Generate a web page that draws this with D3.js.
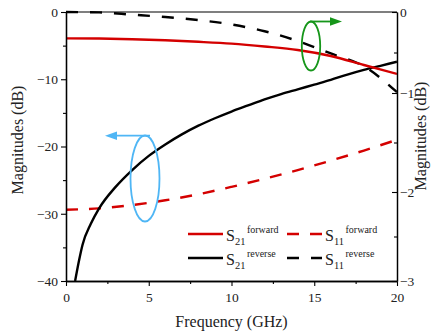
<!DOCTYPE html>
<html>
<head>
<meta charset="utf-8">
<script src="https://cdn.jsdelivr.net/npm/d3@7/dist/d3.min.js"></script>
<style>
  html, body { margin: 0; padding: 0; background: #fff; }
  svg text { font-family: "Liberation Serif", "Times New Roman", serif; fill: #222; }
</style>
</head>
<body>
<svg id="chart" width="431" height="333"></svg>
<script>
// ---------------- data ----------------
const freq = [0, 2, 4, 6, 8, 10, 12, 14, 16, 18, 20];                       // GHz
// right axis (0 .. -3 dB)
const s21Forward = [-0.325, -0.328, -0.336, -0.349, -0.368, -0.391, -0.426, -0.469, -0.543, -0.654, -0.765];
const s11Reverse = [0, -0.005, -0.033, -0.062, -0.100, -0.154, -0.238, -0.358, -0.512, -0.670, -0.990];
// left axis (0 .. -40 dB)
const s11Forward = [-29.4, -29.2, -28.7, -28.0, -27.1, -26.0, -24.8, -23.5, -22.1, -20.6, -19.0];
const freqRev = [0.55, 0.8, 1, 1.5, 2, 3, 4, 5, 6, 7, 8, 9, 10, 11, 12, 13, 14, 15, 16, 17, 18, 19, 20];
const s21Reverse = [-40, -36.8, -34.6, -31.5, -29.2, -26.0, -23.5, -21.4, -19.7, -18.2, -16.9, -15.8, -14.8, -13.9, -13.0, -12.2, -11.5, -10.8, -10.1, -9.3, -8.6, -8.0, -7.4];

const xTicks = [0, 5, 10, 15, 20];
const xMinor = [2.5, 7.5, 12.5, 17.5];
const yLeftTicks = [0, -10, -20, -30, -40];
const yLeftMinor = [-5, -15, -25, -35];
const yRightTicks = [0, -1, -2, -3];
const yRightMinor = [-0.5, -1.5, -2.5];

const xTitle = "Frequency (GHz)";
const yTitle = "Magnitudes (dB)";

const legendItems = [
  { sub: "21", sup: "forward", key: "s21f" },
  { sub: "11", sup: "forward", key: "s11f" },
  { sub: "21", sup: "reverse", key: "s21r" },
  { sub: "11", sup: "reverse", key: "s11r" }
];

// ---------------- layout ----------------
const SERIF = '"Liberation Serif", "Times New Roman", serif';
const RED = "#d40000", BLACK = "#000";
const L = 66, R = 397, T = 12, B = 281;
const svg = d3.select("#chart");

const x = d3.scaleLinear().domain([0, 20]).range([L, R]);
const yL = d3.scaleLinear().domain([0, -40]).range([T, B]);
const yR = d3.scaleLinear().domain([0, -1, -2, -3]).range([T, 93, 192, B]);

const styles = {
  s21f: { color: RED, dash: null },
  s11f: { color: RED, dash: "12,11" },
  s21r: { color: BLACK, dash: null },
  s11r: { color: BLACK, dash: "12,12" }
};

// clip
svg.append("clipPath").attr("id", "clip")
  .append("rect").attr("x", L).attr("y", T - 2).attr("width", R - L).attr("height", B - T + 2);

// frame top
svg.append("line").attr("x1", L).attr("x2", R).attr("y1", T).attr("y2", T)
  .attr("stroke", "#555").attr("stroke-width", 1.3);

// ---------------- series ----------------
const gLines = svg.append("g").attr("clip-path", "url(#clip)");
function drawSeries(xs, ys, scaleY, key) {
  const line = d3.line().x((d, i) => x(xs[i])).y(d => scaleY(d)).curve(d3.curveMonotoneX);
  gLines.append("path").datum(ys)
    .attr("d", line)
    .attr("fill", "none")
    .attr("stroke", styles[key].color)
    .attr("stroke-width", 2.4)
    .attr("stroke-dasharray", styles[key].dash);
}
drawSeries(freq, s11Forward, yL, "s11f");
drawSeries(freqRev, s21Reverse, yL, "s21r");
drawSeries(freq, s11Reverse, yR, "s11r");
drawSeries(freq, s21Forward, yR, "s21f");

// ---------------- axes ----------------
svg.append("g").attr("transform", `translate(${L},0)`)
  .call(d3.axisLeft(yL).tickValues(yLeftTicks).tickSize(5).tickSizeOuter(0).tickPadding(3).tickFormat(d3.format("d")));
svg.append("g").attr("transform", `translate(${L},0)`)
  .call(d3.axisLeft(yL).tickValues(yLeftMinor).tickSize(3).tickSizeOuter(0).tickFormat(""));

svg.append("g").attr("transform", `translate(0,${B})`)
  .call(d3.axisBottom(x).tickValues(xTicks).tickSize(5).tickSizeOuter(0).tickPadding(6));
svg.append("g").attr("transform", `translate(0,${B})`)
  .call(d3.axisBottom(x).tickValues(xMinor).tickSize(3).tickSizeOuter(0).tickFormat(""));

const axisRight = svg.append("g").attr("transform", `translate(${R},0)`)
  .call(d3.axisRight(yR).tickValues(yRightTicks).tickSize(-5).tickSizeOuter(0).tickPadding(3).tickFormat(d3.format("d")));
svg.append("g").attr("transform", `translate(${R},0)`)
  .call(d3.axisRight(yR).tickValues(yRightMinor).tickSize(-3).tickSizeOuter(0).tickFormat(""));

svg.selectAll("g[font-family]").attr("font-family", SERIF).attr("font-size", 13.5);
svg.selectAll(".domain").attr("stroke-width", 1.3);
svg.selectAll(".tick line").attr("stroke-width", 1.1);
axisRight.selectAll(".domain").attr("stroke", "#555");
svg.selectAll(".tick text").attr("fill", "#222");

// titles
svg.append("text").attr("x", (L + R) / 2).attr("y", 327).attr("text-anchor", "middle")
  .attr("font-size", 16).text(xTitle);
svg.append("text").attr("transform", "translate(23,140) rotate(-90)").attr("text-anchor", "middle")
  .attr("font-size", 16).text(yTitle);
svg.append("text").attr("transform", "translate(426,136) rotate(-90)").attr("text-anchor", "middle")
  .attr("font-size", 16).text(yTitle);

// ---------------- annotations ----------------
const BLUE = "#4fb6f5", GREEN = "#16961a";
svg.append("ellipse").attr("cx", 145).attr("cy", 178.5).attr("rx", 14.5).attr("ry", 43)
  .attr("fill", "none").attr("stroke", BLUE).attr("stroke-width", 1.8);
svg.append("line").attr("x1", 150).attr("x2", 114).attr("y1", 135.7).attr("y2", 135.7)
  .attr("stroke", BLUE).attr("stroke-width", 1.8);
svg.append("path").attr("d", "M105,135.7 L117,131.5 L117,139.9 Z").attr("fill", BLUE);

svg.append("ellipse").attr("cx", 311).attr("cy", 46).attr("rx", 9.2).attr("ry", 24.5)
  .attr("fill", "none").attr("stroke", GREEN).attr("stroke-width", 1.8);
svg.append("line").attr("x1", 310).attr("x2", 332).attr("y1", 21.5).attr("y2", 21.5)
  .attr("stroke", GREEN).attr("stroke-width", 1.8);
svg.append("path").attr("d", "M342,21.5 L330,17.3 L330,25.7 Z").attr("fill", GREEN);

// ---------------- legend ----------------
const legCols = [188, 287];
const legRows = [234, 258];
legendItems.forEach((it, i) => {
  const cx = legCols[i % 2], cy = legRows[Math.floor(i / 2)];
  const st = styles[it.key];
  svg.append("line").attr("x1", cx).attr("x2", cx + 35).attr("y1", cy).attr("y2", cy)
    .attr("stroke", st.color).attr("stroke-width", 2.4).attr("stroke-dasharray", st.dash);
  const t = svg.append("text").attr("x", cx + 38).attr("y", cy + 6.5).attr("font-size", 16);
  t.append("tspan").text("S");
  t.append("tspan").attr("font-size", 10.5).attr("dy", 4).text(it.sub);
  t.append("tspan").attr("font-size", 10).attr("dx", 1.5).attr("dy", -12).text(it.sup);
});
</script>
</body>
</html>
